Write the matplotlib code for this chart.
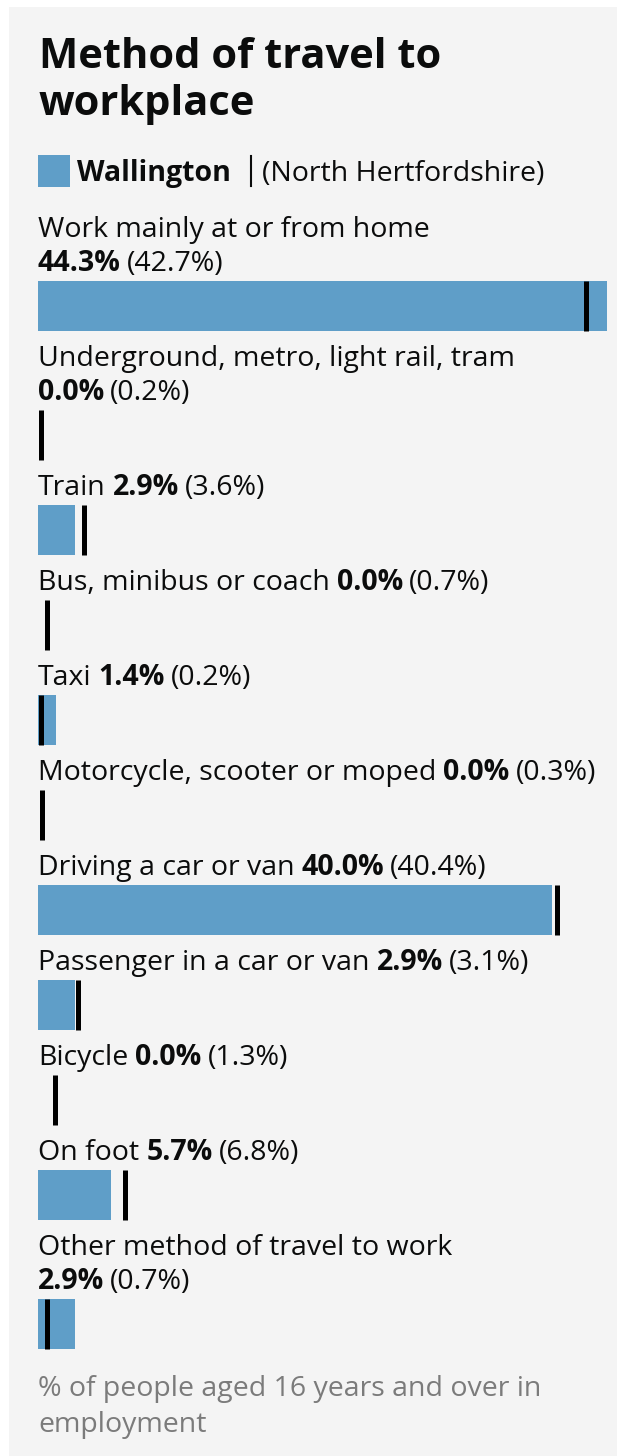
import matplotlib.pyplot as plt
from matplotlib.patches import Rectangle
from matplotlib.lines import Line2D

plt.rcParams['font.family'] = ['Open Sans', 'DejaVu Sans']

# data
categories = [
    'Work mainly at or from home',
    'Underground, metro, light rail, tram',
    'Train',
    'Bus, minibus or coach',
    'Taxi',
    'Motorcycle, scooter or moped',
    'Driving a car or van',
    'Passenger in a car or van',
    'Bicycle',
    'On foot',
    'Other method of travel to work',
]
area_pct = [44.3, 0.0, 2.9, 0.0, 1.4, 0.0, 40.0, 2.9, 0.0, 5.7, 2.9]
district_pct = [42.7, 0.2, 3.6, 0.7, 0.2, 0.3, 40.4, 3.1, 1.3, 6.8, 0.7]
area_name = 'Wallington'
district_name = 'North Hertfordshire'
title_lines = ['Method of travel to', 'workplace']
footnote_lines = ['% of people aged 16 years and over in', 'employment']

# look
W, H = 617, 1456
BLUE = '#5f9ec8'
BG = '#f4f4f4'
INK = '#0b0c0c'
GREY = '#7b7b7b'
LEFT, RIGHT = 38, 607
FS = 20.5
wrapped = {0, 1, 10}   # labels where the value drops to a second line

fig = plt.figure(figsize=(W / 100, H / 100), dpi=100)
fig.patch.set_facecolor('white')
fig.patches.append(Rectangle((9 / W, 0), 1, 1 - 7 / H, transform=fig.transFigure,
                             facecolor=BG, edgecolor='none', zorder=-5))
renderer = fig.canvas.get_renderer()


def fx(px):
    return px / W


def fy(py):
    return 1 - py / H


def put(px, py, s, **kw):
    kw.setdefault('fontsize', FS)
    kw.setdefault('color', INK)
    return fig.text(fx(px), fy(py), s, va='baseline', ha='left', **kw)


def right_of(t):
    return t.get_window_extent(renderer).x1


# title
put(LEFT + 1, 68, title_lines[0], fontsize=30, fontweight='bold')
put(LEFT + 1, 115, title_lines[1], fontsize=30, fontweight='bold')

# legend
fig.patches.append(Rectangle((fx(38), fy(187)), 32 / W, 32 / H, transform=fig.transFigure,
                             facecolor=BLUE, edgecolor='none'))
t = put(77, 181, area_name, fontweight='bold')
sep_x = right_of(t) + 20
fig.add_artist(Line2D([fx(sep_x), fx(sep_x)], [fy(156), fy(186)], color=INK, lw=1.5,
                      transform=fig.transFigure))
put(sep_x + 11, 181, '(' + district_name + ')')

# rows
xmax = max(area_pct + district_pct)
y = 237
for i, (cat, a, d) in enumerate(zip(categories, area_pct, district_pct)):
    t = put(LEFT, y, cat)
    if i in wrapped:
        y += 34
        x0 = LEFT
    else:
        x0 = right_of(t) + 7
    tb = put(x0, y, f'{a:.1f}%', fontweight='bold')
    put(right_of(tb) + 6, y, f'({d:.1f}%)')

    top = y + 10
    bot = top + 50
    ax = fig.add_axes([fx(LEFT), fy(bot), fx(RIGHT) - fx(LEFT), 50 / H])
    ax.barh(0, a, height=1, color=BLUE)
    ax.vlines(d, -0.5, 0.5, color='black', lw=3.6, clip_on=False, capstyle='butt')
    ax.set_xlim(0, xmax)
    ax.set_ylim(-0.5, 0.5)
    ax.axis('off')
    y = bot + 35

# footnote
put(LEFT, y + 12, footnote_lines[0], color=GREY)
put(LEFT, y + 48, footnote_lines[1], color=GREY)

fig.savefig('out.png', dpi=100)
